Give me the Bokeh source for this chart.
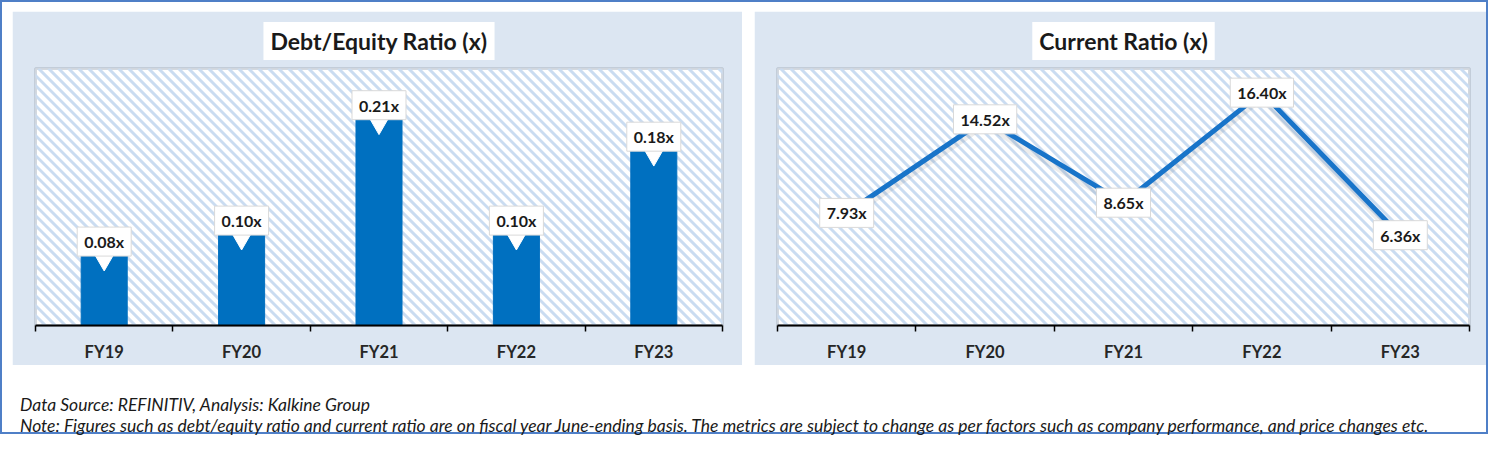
import numpy as np
from bokeh.plotting import figure
from bokeh.models import FixedTicker, Range1d, Div, Spacer, ColumnDataSource, Slope
from bokeh.layouts import row, column
from bokeh.transform import dodge
from bokeh.embed import file_html
from bokeh.resources import INLINE
from bokeh.core.properties import value

# ---------------- data ----------------
categories = ["FY19", "FY20", "FY21", "FY22", "FY23"]
debt_equity = [0.08, 0.10, 0.21, 0.10, 0.18]
current_ratio = [7.93, 14.52, 8.65, 16.40, 6.36]
title_left = "Debt/Equity Ratio (x)"
title_right = "Current Ratio (x)"
footer_lines = [
    "Data Source: REFINITIV, Analysis: Kalkine Group",
    "Note: Figures such as debt/equity ratio and current ratio are on fiscal year June-ending basis. "
    "The metrics are subject to change as per factors such as company performance, and price changes etc.",
]

# ---------------- styles ----------------
FONT = "Lato"
PANEL = "#dce6f2"
BLUE = "#0070c0"
LINE_BLUE = "#1874c9"
HATCH = "#cadcf1"
TEXT = "#1a1a1a"
TOP, BOTTOM = 57, 40
STRIPE_GAP = 10  # px, horizontal period of background stripes

xpos = np.arange(len(categories)) + 0.5
boundaries = list(np.arange(len(categories) + 1).astype(float))


def add_stripes(p, width, height, left, right, ymax):
    """45-degree light-blue background stripes ("\\" direction) drawn as Slope annotations."""
    W = width - left - right
    H = height - TOP - BOTTOM
    nx = len(categories)
    grad = -(ymax / H) / (nx / W)           # screen slope of -45 deg ("\\")
    step = ymax / H * STRIPE_GAP            # intercept step
    n = int((W + H) / STRIPE_GAP) + 2
    for k in range(n):
        p.add_layout(Slope(gradient=grad, y_intercept=k * step, line_color=HATCH,
                           line_width=3, level="underlay"))


def base_fig(width, height, left, right, ymax, title):
    p = figure(width=width, height=height, output_backend="svg", toolbar_location=None,
               x_range=Range1d(0, len(categories)), y_range=Range1d(0, ymax),
               y_axis_location=None, min_border_left=left, min_border_right=right,
               min_border_top=TOP, min_border_bottom=BOTTOM, title=title)
    p.border_fill_color = PANEL
    p.background_fill_color = "white"
    p.outline_line_color = "#a9b4c0"
    p.outline_line_width = 3
    p.outline_line_alpha = 0.5
    p.xgrid.visible = False
    p.ygrid.visible = False
    add_stripes(p, width, height, left, right, ymax)
    # title
    p.title.text_font = FONT
    p.title.text_font_style = "bold"
    p.title.text_font_size = "23px"
    p.title.text_color = TEXT
    p.title.align = "center"
    p.title.background_fill_color = "white"
    p.title.standoff = 17
    try:
        p.title.padding = (7, 5)
    except Exception:
        pass
    # x axis
    ax = p.xaxis[0]
    ax.ticker = FixedTicker(ticks=list(xpos), minor_ticks=boundaries)
    ax.major_label_overrides = {float(xv): c for xv, c in zip(xpos, categories)}
    ax.major_tick_out = 0
    ax.major_tick_in = 0
    ax.minor_tick_out = 6
    ax.minor_tick_in = 0
    ax.minor_tick_line_color = "black"
    ax.minor_tick_line_width = 1.5
    ax.axis_line_color = "black"
    ax.axis_line_width = 2
    ax.major_label_text_font = FONT
    ax.major_label_text_font_style = "bold"
    ax.major_label_text_font_size = "16.5px"
    ax.major_label_text_color = "#262626"
    ax.major_label_standoff = 10
    return p


# ---------------- left: debt/equity bars ----------------
src1 = ColumnDataSource(dict(x=xpos, y=debt_equity, lab=[f"{v:.2f}x" for v in debt_equity]))
p1 = base_fig(730, 354, 23, 20, 0.245, title_left)
p1.vbar(x="x", top="y", width=0.335, source=src1, fill_color=BLUE, line_color=BLUE)
p1.scatter(x="x", y=dodge("y", -0.017), source=src1, marker="inverted_triangle", size=20,
           fill_color="white", line_color="white")
p1.text(x="x", y="y", text="lab", source=src1, text_align="center", text_baseline="middle",
        text_font=value(FONT), text_font_style="bold", text_font_size="16px", text_color=TEXT,
        background_fill_color="white", border_line_color="#d9d9d9", padding=(7, 5))

# ---------------- right: current ratio line ----------------
src2 = ColumnDataSource(dict(x=xpos, y=current_ratio, lab=[f"{v:.2f}x" for v in current_ratio]))
p2 = base_fig(732, 354, 23, 17, 18.1, title_right)
p2.line(x="x", y=dodge("y", -0.25), source=src2, line_width=9, line_color="black", line_alpha=0.07)
p2.line(x="x", y="y", source=src2, line_width=5, line_color=LINE_BLUE)
p2.text(x="x", y="y", text="lab", source=src2, text_align="center", text_baseline="middle",
        text_font=value(FONT), text_font_style="bold", text_font_size="16px", text_color=TEXT,
        background_fill_color="white", border_line_color="#d9d9d9", padding=(7, 5))

# ---------------- footer ----------------
footer = Div(
    text='<div style="padding:24px 0 0 13px; font-family:Lato; font-style:italic; '
         'font-size:17.5px; line-height:21px; color:#1a1a1a; white-space:nowrap;">'
         + "<br>".join(footer_lines) + "</div>",
    width=1484, height=67)

charts = row(Spacer(width=10, height=354), p1, Spacer(width=12, height=354), p2)
layout = column(Spacer(width=1484, height=9), charts, footer, width=1488, height=434,
                styles={"border": "2px solid #4f7fc7", "background-color": "white"})

open("out.html", "w").write(file_html(layout, INLINE))
